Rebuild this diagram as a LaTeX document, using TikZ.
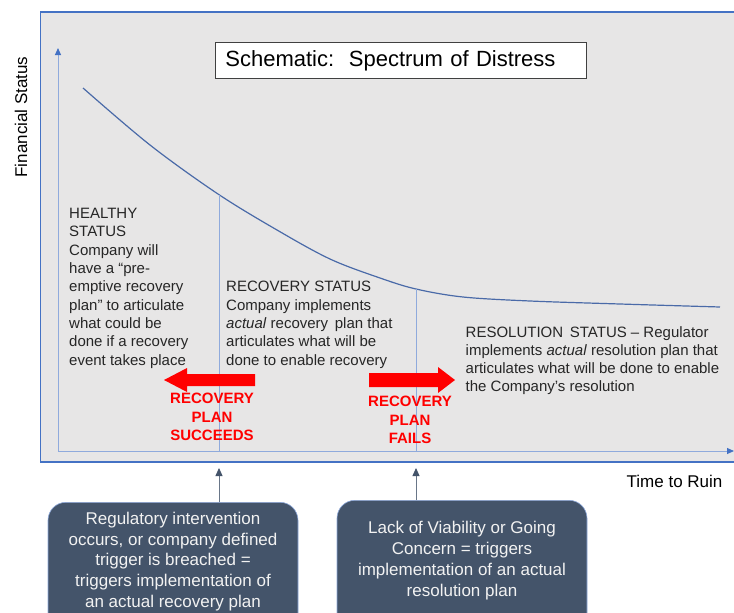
\documentclass[tikz,border=0pt]{standalone}
\usepackage{fontspec}
\setmainfont{Liberation Sans}
\usetikzlibrary{arrows.meta}
\definecolor{panelgray}{HTML}{E7E6E6}
\definecolor{panelblue}{HTML}{4472C4}
\definecolor{axisblue}{HTML}{8FAADC}
\definecolor{curveblue}{HTML}{4A6AA8}
\definecolor{slate}{HTML}{44546A}
\definecolor{bodytext}{HTML}{262626}
\definecolor{boxtext}{HTML}{F2F2F2}
\definecolor{alertred}{HTML}{FF0000}
\begin{document}
\begin{tikzpicture}[x=1pt,y=-1pt,
  bodytxt/.style={anchor=base west, inner sep=0pt, align=left, text=bodytext,
    font=\fontsize{15}{18.3}\selectfont},
  redtxt/.style={anchor=base, inner sep=0pt, align=center, text=alertred,
    font=\fontsize{15}{18.5}\selectfont\bfseries},
  boxtxt/.style={anchor=base, inner sep=0pt, align=center, text=boxtext,
    font=\fontsize{17}{20.8}\selectfont},
  trigbox/.style={draw=axisblue, line width=0.6pt, fill=slate, rounded corners=18pt,
    minimum width=250pt, minimum height=150pt, anchor=north, inner sep=0pt},
  axisline/.style={draw=axisblue, line width=1pt, -{Triangle[length=7pt,width=6pt,color=panelblue]}},
  divider/.style={draw=axisblue, line width=0.8pt},
  uparrow/.style={draw=slate!80, line width=0.8pt, -{Triangle[length=8pt,width=7pt,color=slate]}},
  redarrow/.style={fill=alertred}
]
\clip (0,0) rectangle (734,613);
\fill[white] (0,0) rectangle (734,613);
% panel
\draw[fill=panelgray, draw=panelblue, line width=1.5pt] (40.5,12) rectangle (760,462);
% axes
\coordinate (origin) at (58,451);
\coordinate (ytop) at (58,48);
\coordinate (xend) at (734,451);
\draw[axisline] (origin) -- (ytop);
\draw[axisline] (origin) -- (xend);
% title
\node[draw=black!75, fill=white, line width=0.8pt, anchor=west, text width=351pt,
  inner xsep=10pt, minimum height=36pt, align=left,
  font=\fontsize{22}{26}\selectfont] (title) at (215,60.5) {Schematic:\ \ Spectrum of Distress};
% curve
\draw[curveblue, line width=1.2pt] plot[smooth, tension=0.55] coordinates
  {(83,88) (150,145) (218,194) (277,230) (330,259) (380,278) (416,289) (463,297) (530,301) (620,304) (720,307)};
% dividers
\coordinate (d1top) at (219,195);
\coordinate (d1bot) at (219,451);
\coordinate (d2top) at (416,289);
\coordinate (d2bot) at (416,451);
\draw[divider] (d1top) -- (d1bot);
\draw[divider] (d2top) -- (d2bot);
% texts (anchor base = baseline of last line)
\node[bodytxt] (healthy) at (69,365) {HEALTHY\\STATUS\\Company will\\have a “pre-\\emptive recovery\\plan” to articulate\\what could be\\done if a recovery\\event takes place};
\node[bodytxt] (recovery) at (226,365) {RECOVERY STATUS\\Company implements\\\textit{actual} recovery\, plan that\\articulates what will be\\done to enable recovery};
\node[bodytxt, font=\fontsize{15}{18}\selectfont] (resolution) at (465.5,391.5) {RESOLUTION\, STATUS – Regulator\\implements \textit{actual} resolution plan that\\articulates what will be done to enable\\the Company’s resolution};
% red arrows
\fill[redarrow] (255,374) -- (187,374) -- (187,368) -- (164,380) -- (187,392) -- (187,386) -- (255,386) -- cycle;
\fill[redarrow] (369,373) -- (438,373) -- (438,367) -- (455,380) -- (438,393) -- (438,387) -- (369,387) -- cycle;
\node[redtxt] (succeeds) at (212,440.5) {RECOVERY\\PLAN\\SUCCEEDS};
\node[redtxt] (fails) at (410,443.5) {RECOVERY\\PLAN\\FAILS};
% axis labels
\node[rotate=90, text=black, font=\fontsize{17}{20}\selectfont, inner sep=0pt] (ylab) at (21,117) {Financial Status};
\node[anchor=base west, text=black, font=\fontsize{17}{20}\selectfont, inner sep=0pt] (xlab) at (626.5,487) {Time to Ruin};
% trigger boxes
\node[trigbox] (box1) at (173,502) {};
\node[trigbox] (box2) at (462,500) {};
\node[boxtxt] (box1txt) at (173,607.5) {Regulatory intervention\\occurs, or company defined\\trigger is breached =\\triggers implementation of\\an actual recovery plan};
\node[boxtxt] (box2txt) at (462,596) {Lack of Viability or Going\\Concern = triggers\\implementation of an actual\\resolution plan};
\coordinate (tip1) at (219,468);
\coordinate (tip2) at (416,468);
\draw[uparrow] (box1.north -| tip1) -- (tip1);
\draw[uparrow] (box2.north -| tip2) -- (tip2);
\end{tikzpicture}
\end{document}
